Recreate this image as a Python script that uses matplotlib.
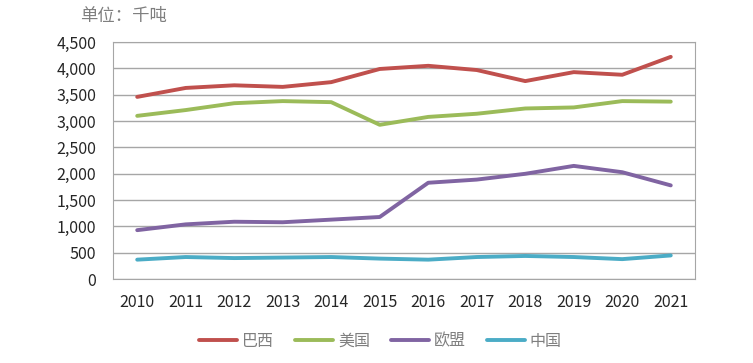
import matplotlib.pyplot as plt
from matplotlib.ticker import FuncFormatter

plt.rcParams['font.family'] = ['Noto Sans CJK SC', 'DejaVu Sans']

years = ['2010', '2011', '2012', '2013', '2014', '2015', '2016', '2017', '2018', '2019', '2020', '2021']
brazil = [3460, 3630, 3680, 3650, 3740, 3990, 4050, 3970, 3760, 3930, 3880, 4220]
usa = [3100, 3210, 3340, 3380, 3360, 2930, 3080, 3140, 3240, 3260, 3380, 3370]
eu = [930, 1040, 1090, 1080, 1130, 1180, 1830, 1890, 2000, 2150, 2030, 1780]
china = [370, 420, 400, 410, 420, 390, 370, 420, 440, 420, 380, 450]

series = [('巴西', brazil, '#C0504D'),
          ('美国', usa, '#9BBB59'),
          ('欧盟', eu, '#8064A2'),
          ('中国', china, '#4BACC6')]

fig = plt.figure(figsize=(7.53, 3.63), dpi=100)
ax = fig.add_axes([0.150, 0.231, 0.773, 0.653])

x = range(len(years))
for name, vals, color in series:
    ax.plot(x, vals, color=color, lw=2.8, label=name, solid_capstyle='round')

ax.set_xlim(-0.5, len(years) - 0.5)
ax.set_ylim(0, 4500)
ax.set_yticks(range(0, 4501, 500))
ax.yaxis.set_major_formatter(FuncFormatter(lambda v, p: f'{int(v):,}'))
ax.set_xticks(list(x))
ax.set_xticklabels(years)
ax.grid(axis='y', color='#A6A6A6', lw=1)
ax.set_axisbelow(True)
for s in ax.spines.values():
    s.set_color('#A6A6A6')
ax.tick_params(length=0, labelsize=11.5, colors='#262626')
ax.tick_params(axis='y', pad=12)
ax.tick_params(axis='x', pad=11)

fig.text(0.106, 0.955, '单位：千吨', fontsize=12.5, color='#7F7F7F', va='center')

leg = fig.legend(loc='center', bbox_to_anchor=(0.505, 0.06), ncol=4, frameon=False,
                 fontsize=11.5, handlelength=2.4, handletextpad=0.3, columnspacing=1.3)
for t in leg.get_texts():
    t.set_color('#7F7F7F')

plt.savefig('out.png', dpi=100)
